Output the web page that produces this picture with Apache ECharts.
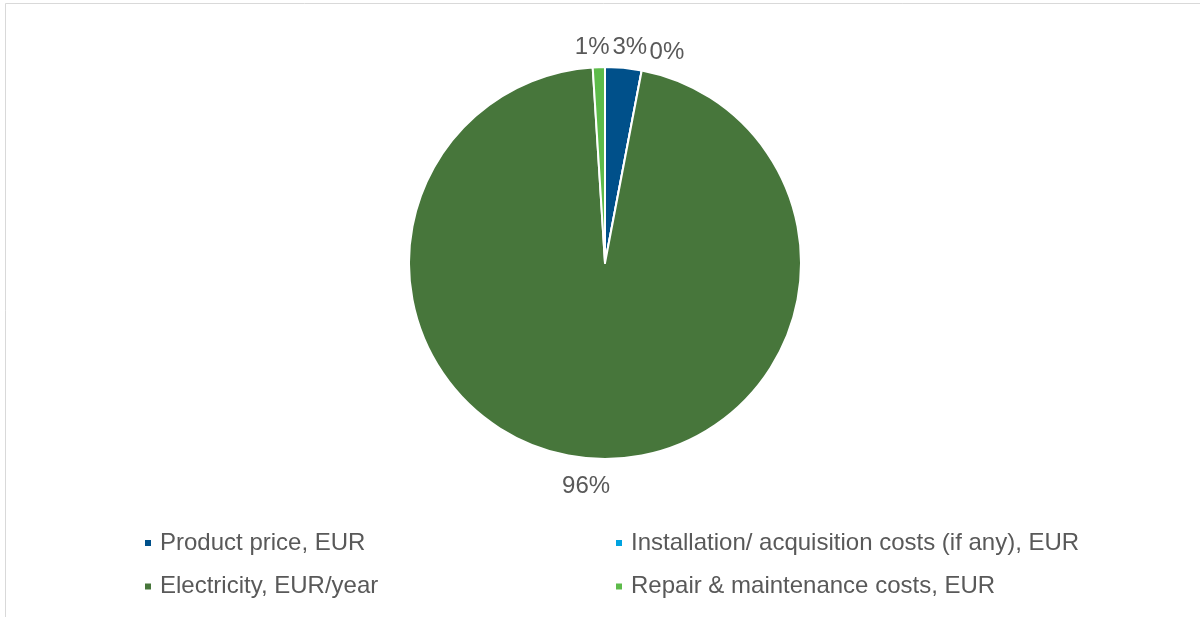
<!DOCTYPE html>
<html>
<head>
<meta charset="utf-8">
<script src="https://cdn.jsdelivr.net/npm/echarts@6/dist/echarts.min.js"></script>
<style>
  html, body { margin: 0; padding: 0; background: #ffffff; }
  #chart { width: 1200px; height: 617px; }
</style>
</head>
<body>
<div id="chart"></div>
<script>
// Cost breakdown, shares of the total (%)
const categories = [
  'Product price, EUR',
  'Installation/ acquisition costs (if any), EUR',
  'Electricity, EUR/year',
  'Repair & maintenance costs, EUR'
];
const shares = [3, 0, 96, 1];
const colors = ['#00508A', '#00A3E0', '#47763B', '#5DBB4A'];

const textColor = '#595959';
const fontFamily = '"Liberation Sans", Arial, sans-serif';

// Small nudges for the percentage labels so the thin slices' labels sit side by side
const labelNudge = [
  { dx: -17, dy: -11 },
  { dx: 1, dy: -8 },
  { dx: 23, dy: 18 },
  { dx: 16, dy: -10 }
];

const chart = echarts.init(document.getElementById('chart'), null, { renderer: 'canvas' });

const legendBase = {
  orient: 'vertical',
  icon: 'rect',
  padding: 0,
  itemWidth: 8,
  itemHeight: 8,
  itemGap: 19.5,
  top: 531,
  textStyle: {
    color: textColor, fontSize: 24, lineHeight: 24,
    fontFamily: fontFamily, padding: [0, 0, 0, 3]
  },
  selectedMode: false
};

chart.setOption({
  animation: false,
  backgroundColor: '#ffffff',
  color: colors,
  graphic: [{
    type: 'rect',
    silent: true,
    shape: { x: 5.5, y: 3.5, width: 1300, height: 700 },
    style: { fill: 'none', stroke: '#d9d9d9', lineWidth: 1 }
  }],
  legend: [
    Object.assign({}, legendBase, { left: 143, data: [categories[0], categories[2]] }),
    Object.assign({}, legendBase, { left: 614, data: [categories[1], categories[3]] })
  ],
  series: [{
    type: 'pie',
    center: [605, 263],
    radius: 196,
    startAngle: 90,
    clockwise: true,
    avoidLabelOverlap: false,
    percentPrecision: 0,
    itemStyle: { borderColor: '#ffffff', borderWidth: 2 },
    label: {
      show: true,
      position: 'outside',
      formatter: '{d}%',
      color: textColor,
      fontSize: 24,
      lineHeight: 24,
      fontFamily: fontFamily
    },
    labelLine: { show: false, length: 10, length2: 0 },
    labelLayout: params => labelNudge[params.dataIndex],
    emphasis: { disabled: true },
    data: categories.map((name, i) => ({ name: name, value: shares[i] }))
  }]
});
</script>
</body>
</html>
